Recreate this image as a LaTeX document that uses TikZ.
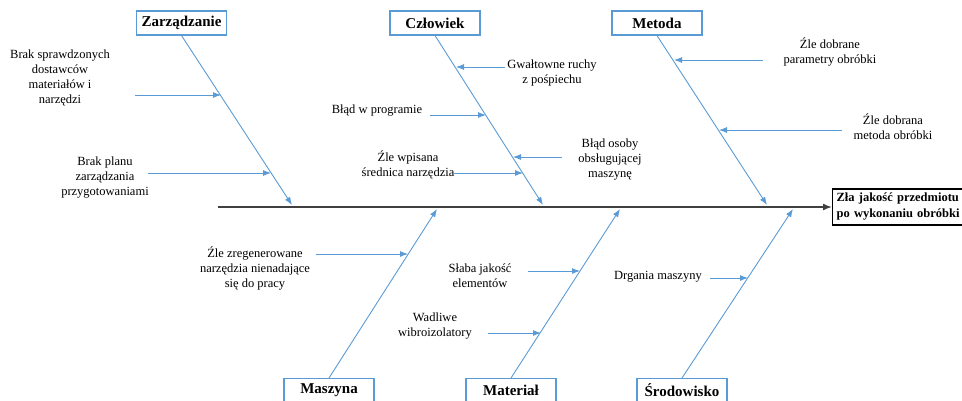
\documentclass[tikz,border=0pt]{standalone}
\usepackage{fontspec}
\setmainfont{Liberation Serif}
\usepackage{tikz}
\usetikzlibrary{arrows.meta}
\definecolor{boneblue}{HTML}{5B9BD5}
\definecolor{spinegray}{HTML}{404040}
\tikzset{
  kat/.style={draw=boneblue,line width=1.1pt,fill=white,inner sep=2pt,
    minimum width=90pt,minimum height=24pt,font=\rmfamily\fontsize{15}{17}\selectfont\bfseries},
  przyczyna/.style={align=center,inner sep=1pt,font=\rmfamily\fontsize{12.5}{15}\selectfont},
  skutek/.style={draw=black,line width=1.3pt,align=left,inner xsep=4pt,text width=132pt,
    minimum height=36pt,font=\rmfamily\fontsize{12.5}{16}\selectfont\bfseries},
  twig/.style={boneblue,line width=0.9pt,-{Latex[length=8pt,width=6pt]}},
  spine/.style={spinegray,line width=1.5pt,-{Latex[length=9pt,width=7pt]}}
}

\begin{document}
\begin{tikzpicture}[x=1pt,y=-1pt]
  \useasboundingbox (0,0) rectangle (962,400);
  % kategorie
  \node[kat] (zarz) at (181.5,23) {Zarządzanie};
  \node[kat] (czl) at (435,23) {Człowiek};
  \node[kat] (met) at (657,23) {Metoda};
  \node[kat,anchor=north] (masz) at (329,378) {Maszyna};
  \node[kat,anchor=north] (mat) at (511,378) {Materiał};
  \node[kat,anchor=north] (srod) at (682,378) {Środowisko};
  % skutek i os glowna
  \node[skutek,anchor=west] (wynik) at (832,207) {Zła jakość przedmiotu\\po wykonaniu obróbki};
  \coordinate (ogon) at (218,207);
  \draw[spine] (ogon) -- (wynik.west);
  % osci
  \coordinate (zarzK) at (292,205);
  \coordinate (czlK) at (543,205);
  \coordinate (metK) at (767,205);
  \coordinate (maszK) at (437,209);
  \coordinate (matK) at (620,209);
  \coordinate (srodK) at (793,209);
  \draw[twig] (zarz.south) -- (zarzK);
  \draw[twig] (czl.south) -- (czlK);
  \draw[twig] (met.south) -- (metK);
  \draw[twig] (masz.north) -- (maszK);
  \draw[twig] (mat.north) -- (matK);
  \draw[twig] (srod.north) -- (srodK);
  % przyczyny
  \node[przyczyna] (zk1) at (60,78) {Brak sprawdzonych\\dostawców\\materiałów i\\narzędzi};
  \node[przyczyna] (zk2) at (105,178) {Brak planu\\zarządzania\\przygotowaniami};
  \node[przyczyna] (cz1) at (552,73) {Gwałtowne ruchy\\z pośpiechu};
  \node[przyczyna] (cz2) at (377,111) {Błąd w programie};
  \node[przyczyna] (cz3) at (408,165) {Źle wpisana\\średnica narzędzia};
  \node[przyczyna] (cz4) at (610,160) {Błąd osoby\\obsługującej\\maszynę};
  \node[przyczyna] (me1) at (830,52) {Źle dobrane\\parametry obróbki};
  \node[przyczyna] (me2) at (893,127) {Źle dobrana\\metoda obróbki};
  \node[przyczyna] (ma1) at (255,268) {Źle zregenerowane\\narzędzia nienadające\\się do pracy};
  \node[przyczyna] (mt1) at (480,276) {Słaba jakość\\elementów};
  \node[przyczyna] (mt2) at (435,326) {Wadliwe\\wibroizolatory};
  \node[przyczyna] (sr1) at (658,277) {Drgania maszyny};
  % strzalki przyczyn
  \coordinate (zk1a) at (135,95);  \coordinate (zk1b) at (221,95);
  \coordinate (zk2a) at (148,173); \coordinate (zk2b) at (271,173);
  \coordinate (cz1a) at (505,67);  \coordinate (cz1b) at (456,67);
  \coordinate (cz2a) at (430,115); \coordinate (cz2b) at (486,115);
  \coordinate (cz3a) at (453,173); \coordinate (cz3b) at (523,173);
  \coordinate (cz4a) at (562,157); \coordinate (cz4b) at (513,157);
  \coordinate (me1a) at (763,60);  \coordinate (me1b) at (674,60);
  \coordinate (me2a) at (842,130); \coordinate (me2b) at (719,130);
  \coordinate (ma1a) at (316,254); \coordinate (ma1b) at (408,254);
  \coordinate (mt1a) at (528,271); \coordinate (mt1b) at (580,271);
  \coordinate (mt2a) at (488,333); \coordinate (mt2b) at (541,333);
  \coordinate (sr1a) at (710,278); \coordinate (sr1b) at (748,278);
  \foreach \p in {zk1,zk2,cz1,cz2,cz3,cz4,me1,me2,ma1,mt1,mt2,sr1}
    {\draw[twig] (\p a) -- (\p b);}
\end{tikzpicture}
\end{document}
